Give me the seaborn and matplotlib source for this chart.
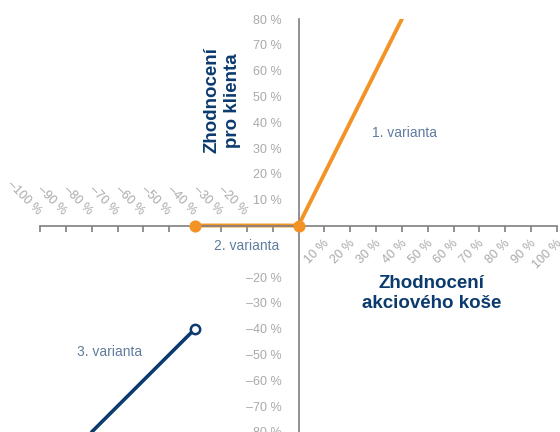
"""
Payoff chart: client return vs. return of the stock basket (three variants)
"""

import numpy as np
import pandas as pd
import seaborn as sns
import matplotlib.pyplot as plt

orange = "#f39325"
navy = "#0b3b6e"
grey = "#a9a9a9"
note_col = "#5f7c9e"

sns.set_theme(style='white')
plt.rcParams['font.family'] = ['Liberation Sans', 'DejaVu Sans']

# data (values in %)
var1_x = [-40, 0, 40]
var1_y = [0, 0, 80]
var1_dots_x = [-40, 0]
var1_dots_y = [0, 0]
var3_x = [-80, -40]
var3_y = [-80, -40]

x_ticks = list(range(-100, 101, 10))
y_ticks = list(range(-80, 81, 10))
x_neg_labels = [-100, -90, -80, -70, -60, -50, -40, -30, -20]
x_pos_labels = [10, 20, 30, 40, 50, 60, 70, 80, 90, 100]
y_hidden = [0, -10]

notes = ["1. varianta", "2. varianta", "3. varianta"]
note_pos = [(41, 36), (-20, -8), (-73, -49)]


def pct(v):
    return f"{v} %".replace('-', '\u2013')


fig = plt.figure(figsize=(5.6, 4.32), dpi=100)
ax = fig.add_axes([40 / 560, 0, 517 / 560, 413 / 432])

sns.lineplot(x=var1_x, y=var1_y, color=orange, linewidth=2.8, ax=ax)
sns.scatterplot(x=var1_dots_x, y=var1_dots_y, color=orange, s=65,
                edgecolor=orange, zorder=5, ax=ax)
sns.lineplot(x=var3_x, y=var3_y, color=navy, linewidth=2.6, ax=ax)
sns.scatterplot(x=var3_x[-1:], y=var3_y[-1:], color='white', s=45,
                edgecolor=navy, linewidth=1.8, zorder=5, ax=ax)

ax.set_xlim(-100, 100)
ax.set_ylim(-80, 80)

for side in ['top', 'right']:
    ax.spines[side].set_visible(False)
ax.spines['left'].set_position(('data', 0))
ax.spines['bottom'].set_position(('data', 0))
for side in ['left', 'bottom']:
    ax.spines[side].set_color('#7f7f7f')
    ax.spines[side].set_linewidth(1.2)

ax.set_xticks(x_ticks)
ax.set_xticklabels([''] * len(x_ticks))
ax.set_yticks(y_ticks)
ax.set_yticklabels(['' if v in y_hidden else pct(v) for v in y_ticks])
ax.tick_params(axis='both', direction='out', length=4, width=1.2,
               color='#7f7f7f')
ax.tick_params(axis='y', pad=8, labelsize=9, labelcolor=grey)
ax.tick_params(axis='x', bottom=True)

# rotated x tick labels: negatives above, positives below the axis
for v in x_neg_labels:
    ax.annotate(pct(v), xy=(v, 0), xytext=(-1, 12), textcoords='offset pixels',
                rotation=-45, rotation_mode='anchor', ha='right', va='center',
                fontsize=9, color=grey)
for v in x_pos_labels:
    ax.annotate(pct(v), xy=(v, 0), xytext=(3, -16), textcoords='offset pixels',
                rotation=45, rotation_mode='anchor', ha='right', va='center',
                fontsize=9, color=grey)

for txt, (nx, ny) in zip(notes, note_pos):
    ax.text(nx, ny, txt, ha='center', va='center', fontsize=10, color=note_col)

ax.text(-29.5, 48.5, "Zhodnocení\npro klienta", rotation=90, ha='center',
        va='center', fontsize=13.5, fontweight='bold', color=navy,
        linespacing=1.28)
ax.text(51.5, -26.5, "Zhodnocení\nakciového koše", ha='center', va='center',
        fontsize=13.5, fontweight='bold', color=navy, linespacing=1.22)

plt.savefig('out.png', dpi=100)
